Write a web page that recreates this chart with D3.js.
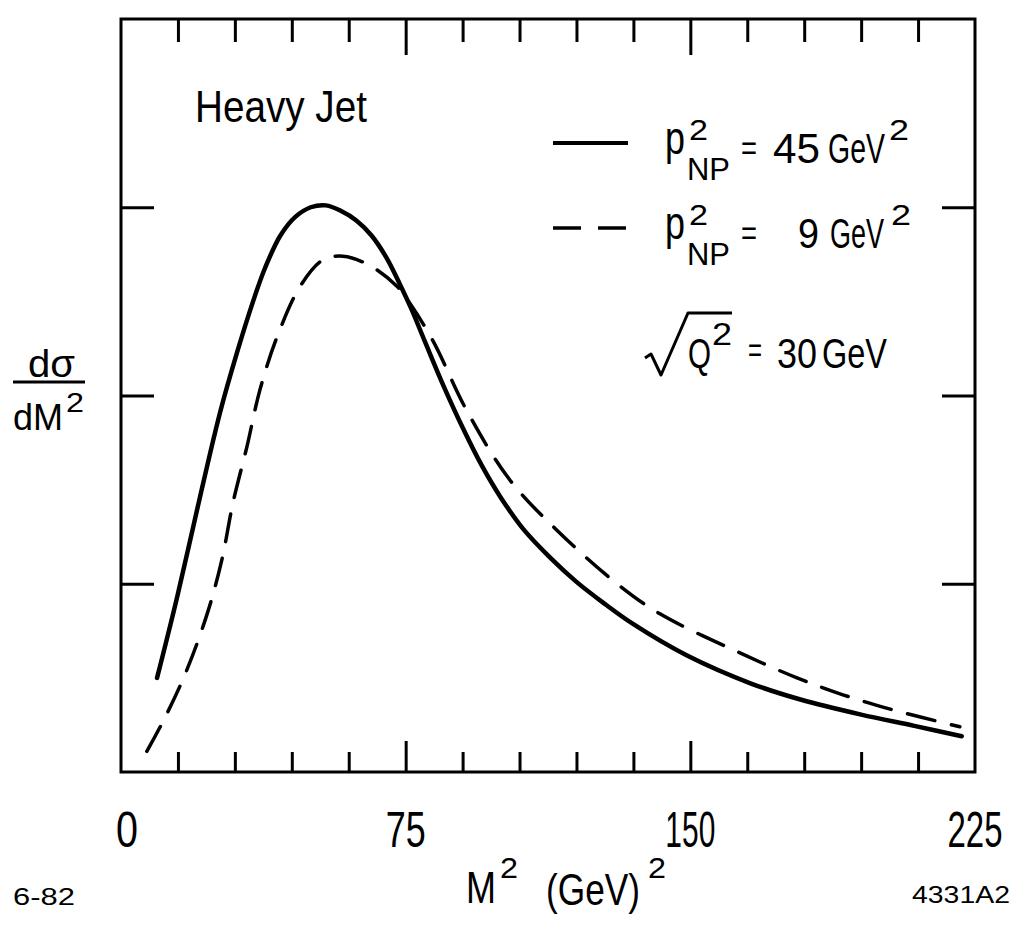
<!DOCTYPE html>
<html>
<head>
<meta charset="utf-8">
<script src="https://cdn.jsdelivr.net/npm/d3@7"></script>
<style>
  body { margin: 0; background: #fff; }
  text { font-family: 'Liberation Sans', Arial, sans-serif; fill: #000; }
</style>
</head>
<body>
<div id="chart"></div>
<script>
// values (M^2 in GeV^2, dsigma/dM^2 in tick units)
const solidM2 = [9.5, 14.8, 20.8, 26.1, 30.6, 34.8, 38, 42, 46, 50, 54, 58, 62, 66, 70, 73.5, 76.5, 80, 85, 90, 95, 100, 106, 113, 120, 127, 135, 149, 166, 179, 195, 209, 221.5];
const solidValues = [0.50, 0.93, 1.46, 1.91, 2.23, 2.50, 2.68, 2.85, 2.95, 3.00, 3.01, 2.98, 2.93, 2.85, 2.73, 2.59, 2.46, 2.29, 2.05, 1.83, 1.63, 1.46, 1.29, 1.14, 1.01, 0.90, 0.785, 0.62, 0.47, 0.385, 0.305, 0.245, 0.19];
const dashedM2 = [6.8, 11.1, 16.9, 22.7, 26.6, 29.5, 33.2, 36.6, 41.1, 47.2, 53.2, 58.5, 65.6, 72.7, 76.1, 82.2, 91.1, 102.5, 115.6, 130.7, 142.0, 161.2, 178.1, 190.2, 203.4, 221.0];
const dashedValues = [0.11, 0.27, 0.52, 0.84, 1.13, 1.43, 1.73, 2.03, 2.31, 2.58, 2.72, 2.74, 2.69, 2.58, 2.49, 2.29, 1.92, 1.55, 1.27, 1.00, 0.84, 0.65, 0.50, 0.41, 0.33, 0.24];

const xMinorTicks = [15, 30, 45, 60, 90, 105, 120, 135, 165, 180, 195, 210];
const xMajorTicks = [75, 150];
const xLabelValues = [0, 75, 150, 225];
const xTickLabels = ['0', '75', '150', '225'];
const yTicks = [1, 2, 3];

const W = 1018;
const H = 932;
const margin = { top: 19, right: 43, bottom: 160, left: 121 };
const width = W - margin.left - margin.right;
const height = H - margin.top - margin.bottom;

const svg = d3.select('#chart').append('svg')
  .attr('width', W)
  .attr('height', H);

const xScale = d3.scaleLinear().domain([0, 225]).range([0, width]);
const yScale = d3.scaleLinear().domain([0, 4]).range([height, 0]);

const g = svg.append('g')
  .attr('transform', `translate(${margin.left}, ${margin.top})`);

// axes: ticks point inward, no labels from d3
function styleAxis(sel) {
  sel.select('.domain').remove();
  sel.selectAll('.tick line').attr('stroke', '#000').attr('stroke-width', 3);
  sel.selectAll('.tick text').remove();
}

g.append('g').attr('transform', `translate(0, ${height})`)
  .call(d3.axisBottom(xScale).tickValues(xMinorTicks).tickSize(-20)).call(styleAxis);
g.append('g').attr('transform', `translate(0, ${height})`)
  .call(d3.axisBottom(xScale).tickValues(xMajorTicks).tickSize(-31)).call(styleAxis);
g.append('g')
  .call(d3.axisTop(xScale).tickValues(xMinorTicks).tickSize(-23)).call(styleAxis);
g.append('g')
  .call(d3.axisTop(xScale).tickValues(xMajorTicks).tickSize(-36)).call(styleAxis);
g.append('g')
  .call(d3.axisLeft(yScale).tickValues(yTicks).tickSize(-33)).call(styleAxis);
g.append('g').attr('transform', `translate(${width}, 0)`)
  .call(d3.axisRight(yScale).tickValues(yTicks).tickSize(-33)).call(styleAxis);

// frame
g.append('rect')
  .attr('x', 0).attr('y', 0)
  .attr('width', width).attr('height', height)
  .attr('fill', 'none').attr('stroke', '#000').attr('stroke-width', 3);

const line = d3.line()
  .x(d => xScale(d[0]))
  .y(d => yScale(d[1]))
  .curve(d3.curveCatmullRom.alpha(0.5));

g.append('path')
  .datum(solidM2.map((m, i) => [m, solidValues[i]]))
  .attr('d', line)
  .attr('fill', 'none').attr('stroke', '#000')
  .attr('stroke-width', 4.5).attr('stroke-linecap', 'round');

g.append('path')
  .datum(dashedM2.map((m, i) => [m, dashedValues[i]]))
  .attr('d', line)
  .attr('fill', 'none').attr('stroke', '#000')
  .attr('stroke-width', 3.5).attr('stroke-linecap', 'round')
  .attr('stroke-dasharray', '28,17');

// text squeezed horizontally to the narrow lettering of the original
function txt(x, y, size, s, w, anchor) {
  const t = svg.append('text')
    .attr('font-size', size)
    .attr('text-anchor', anchor || 'start')
    .text(s);
  const sx = w ? w / t.node().getComputedTextLength() : 1;
  t.attr('transform', `translate(${x}, ${y}) scale(${sx.toFixed(3)}, 1)`);
  return t;
}

// x tick labels
const xLabelWidths = [22, 40, 50, 55];
xTickLabels.forEach((t, i) => {
  txt(margin.left + xScale(xLabelValues[i]) + (i === 0 ? 6 : 0), 847, 50, t, xLabelWidths[i], 'middle');
});

// x axis title and corner marks
txt(466, 903, 44, 'M', 30);
txt(500, 878, 30, '2', 18);
txt(546, 905, 44, '(GeV)', 94);
txt(648, 878, 30, '2', 18);
txt(13, 905, 24, '6-82', 62);
txt(912, 903, 24, '4331A2', 98);

// y axis title
txt(28, 377, 38, 'dσ', 47);
svg.append('line')
  .attr('x1', 13).attr('x2', 85).attr('y1', 382).attr('y2', 382)
  .attr('stroke', '#000').attr('stroke-width', 3);
txt(13, 430, 36, 'dM', 50);
txt(66, 412, 28, '2', 18);

// annotations
txt(195, 122, 44, 'Heavy Jet', 172);

const legendRows = [
  { dy: 0, dash: null, value: '45', valueX: 773, valueW: 47, gevX: 828, gevW: 57, supX: 889 },
  { dy: 85, dash: '28,17', value: '9', valueX: 798, valueW: 21, gevX: 830, gevW: 54, supX: 891 },
];
legendRows.forEach(r => {
  const ln = svg.append('line')
    .attr('x1', 553).attr('x2', 628)
    .attr('y1', 143 + r.dy).attr('y2', 143 + r.dy)
    .attr('stroke', '#000').attr('stroke-width', r.dash ? 3.5 : 4);
  if (r.dash) ln.attr('stroke-dasharray', r.dash);
  txt(665, 154 + r.dy, 46, 'p', 20);
  txt(689, 140 + r.dy, 30, '2', 19);
  txt(687, 180 + r.dy, 32, 'NP', 43);
  txt(741, 160 + r.dy, 36, '=', 16);
  txt(r.valueX, 163 + r.dy, 43, r.value, r.valueW);
  txt(r.gevX, 163 + r.dy, 43, 'GeV', r.gevW);
  txt(r.supX, 140 + r.dy, 30, '2', 20);
});

// sqrt(Q^2) = 30 GeV
svg.append('path')
  .attr('d', 'M645,358 L651,354 L661,375 L688,313 L732,313')
  .attr('fill', 'none').attr('stroke', '#000')
  .attr('stroke-width', 3).attr('stroke-linejoin', 'round');
txt(688, 368, 42, 'Q', 23);
txt(712, 345, 32, '2', 20);
txt(748, 362, 36, '=', 14);
txt(777, 368, 42, '30', 40);
txt(822, 368, 42, 'GeV', 65);
</script>
</body>
</html>
